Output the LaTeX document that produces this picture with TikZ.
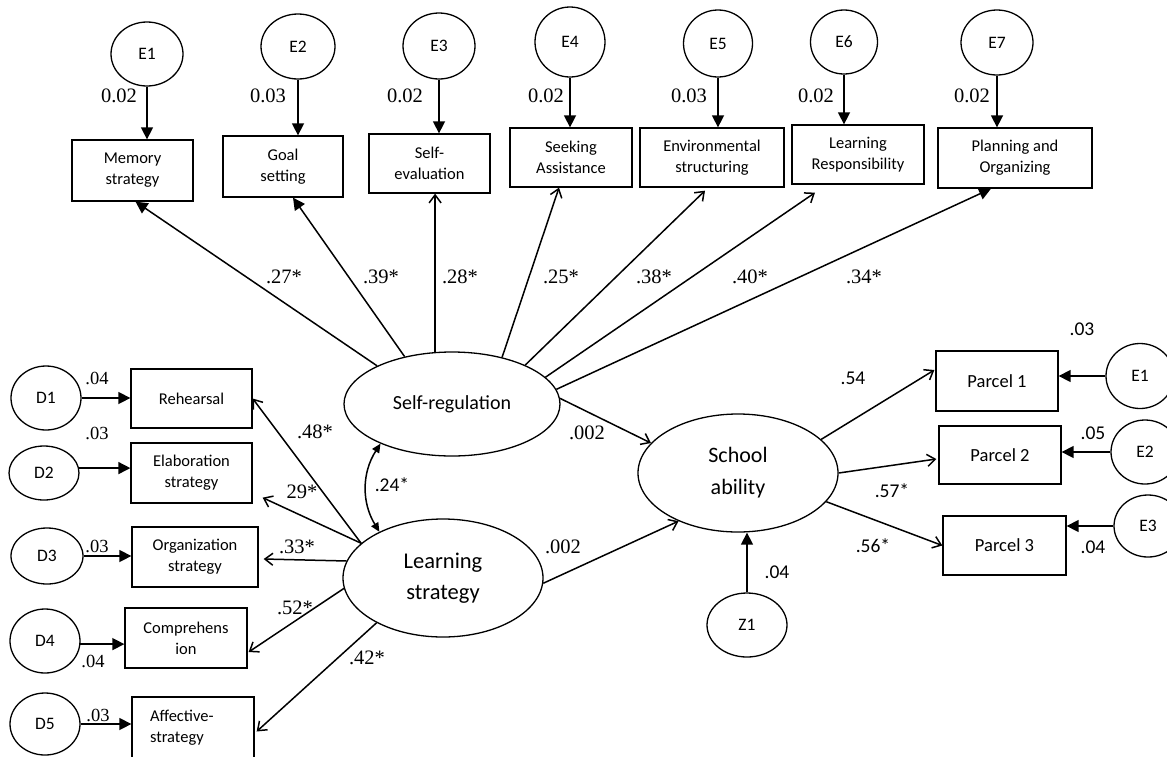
\documentclass[tikz,border=0pt]{standalone}
\usepackage{fontspec}
\setmainfont{Liberation Serif}
\newfontfamily\calib{Carlito}
\usetikzlibrary{shapes.geometric,arrows.meta,calc}
\begin{document}
\begin{tikzpicture}[x=1pt,y=-1pt,
 ell/.style={draw, ellipse, line width=1.3pt, inner sep=0pt, font=\calib\fontsize{17.5}{20}\selectfont},
 bx/.style={draw, rectangle, line width=1.3pt, inner sep=0pt, align=center, font=\calib\fontsize{16.5}{21}\selectfont},
 fa/.style={line width=1.5pt, -{Triangle[length=12pt,width=12pt]}},
 oa/.style={line width=1.5pt, -{Straight Barb[length=8pt,width=12pt]}},
 sl/.style={font=\fontsize{20.5}{24}\selectfont},
 ssl/.style={font=\fontsize{18.5}{22}\selectfont},
 cl/.style={font=\calib\fontsize{19.5}{22}\selectfont},
]
\useasboundingbox (0,0) rectangle (1167,756);
\fill[white] (0,0) rectangle (1167,756);
\clip (0,0) rectangle (1167,756);

% top error ellipses
\node[ell, minimum width=72pt, minimum height=64pt] (e1) at (147,54) {E1};
\node[ell, minimum width=74pt, minimum height=65pt] (e2) at (298,46.5) {E2};
\node[ell, minimum width=72pt, minimum height=66pt] (e3) at (439,46) {E3};
\node[ell, minimum width=70pt, minimum height=70pt] (e4) at (570,42) {E4};
\node[ell, minimum width=69pt, minimum height=67pt] (e5) at (718,43.5) {E5};
\node[ell, minimum width=67pt, minimum height=64pt] (e6) at (844,42) {E6};
\node[ell, minimum width=72pt, minimum height=65pt] (e7) at (997,42.5) {E7};

% top boxes
\node[bx, minimum width=121pt, minimum height=61pt] (mem) at (132.5,170.5) {Memory\\strategy};
\node[bx, minimum width=120pt, minimum height=61pt] (goal) at (283,166.5) {Goal\\setting};
\node[bx, minimum width=121pt, minimum height=59pt] (se) at (429.5,163.5) {Self-\\evaluation};
\node[bx, minimum width=122pt, minimum height=59pt] (seek) at (571,157.5) {Seeking\\Assistance};
\node[bx, minimum width=144pt, minimum height=59pt] (env) at (712,157.5) {Environmental\\structuring};
\node[bx, minimum width=132pt, minimum height=59pt] (lr) at (858,154.5) {Learning\\Responsibility};
\node[bx, minimum width=154pt, minimum height=60pt] (po) at (1015,158) {Planning and\\Organizing};

% latent ellipses
\node[ell, minimum width=216pt, minimum height=104pt, font=\calib\fontsize{20}{24}\selectfont] (sr) at (452,404) {Self-regulation};
\node[ell, minimum width=200pt, minimum height=118pt, font=\calib\fontsize{22}{32}\selectfont, align=center] (sch) at (738,473) {School\\ability};
\node[ell, minimum width=200pt, minimum height=118pt, font=\calib\fontsize{22.5}{31}\selectfont, align=center] (ls) at (443,578) {Learning\\strategy};
\node[ell, minimum width=80pt, minimum height=64pt] (z1) at (747,625) {Z1};

% left side
\node[ell, minimum width=70pt, minimum height=64pt] (d1) at (46,398) {D1};
\node[ell, minimum width=70pt, minimum height=54pt] (d2) at (44,473) {D2};
\node[ell, minimum width=72pt, minimum height=56pt] (d3) at (47,556) {D3};
\node[ell, minimum width=70pt, minimum height=64pt] (d4) at (45,641) {D4};
\node[ell, minimum width=70pt, minimum height=62pt] (d5) at (45,724) {D5};
\node[bx, minimum width=121pt, minimum height=59pt] (reh) at (191.5,398.5) {Rehearsal};
\node[bx, minimum width=121pt, minimum height=60pt] (elab) at (191.5,473) {Elaboration\\strategy};
\node[bx, minimum width=126pt, minimum height=60pt] (org) at (195,557) {Organization\\strategy};
\node[bx, minimum width=122pt, minimum height=60pt] (comp) at (186,638) {Comprehens\\ion};
\node[bx, align=left, text width=86pt, inner xsep=18pt, minimum height=61pt] (aff) at (193,727.5) {Affective-\\strategy};

% right side
\node[bx, minimum width=122pt, minimum height=60pt, font=\calib\fontsize{18.5}{22}\selectfont] (p1) at (997,381) {Parcel 1};
\node[bx, minimum width=122pt, minimum height=58pt, font=\calib\fontsize{18.5}{22}\selectfont] (p2) at (1000,455) {Parcel 2};
\node[bx, minimum width=123pt, minimum height=59pt, font=\calib\fontsize{18.5}{22}\selectfont] (p3) at (1004.5,545.5) {Parcel 3};
\node[ell, minimum width=68pt, minimum height=65pt] (e1r) at (1140,376) {E1};
\node[ell, minimum width=68pt, minimum height=64pt] (e2r) at (1145,452) {E2};
\node[ell, minimum width=68pt, minimum height=62pt] (e3r) at (1148,526) {E3};

% error arrows top
\draw[fa] (e1.south) -- (e1.south |- mem.north);
\draw[fa] (e2.south) -- (e2.south |- goal.north);
\draw[fa] (e3.south) -- (e3.south |- se.north);
\draw[fa] (e4.south) -- (e4.south |- seek.north);
\draw[fa] (e5.south) -- (e5.south |- env.north);
\draw[fa] (e6.south) -- (e6.south |- lr.north);
\draw[fa] (e7.south) -- (e7.south |- po.north);
\node[sl] at (119,96) {0.02};
\node[sl] at (268,96) {0.03};
\node[sl] at (405,96) {0.02};
\node[sl] at (546,96) {0.02};
\node[sl] at (689,96) {0.03};
\node[sl] at (816,96) {0.02};
\node[sl] at (972,96) {0.02};

% self-regulation loadings
\draw[fa] (sr.153) -- ($(mem.south)+(3,0)$);
\draw[fa] (sr.135) -- ($(goal.south)+(10,0)$);
\draw[oa] (sr.108) -- (sr.108 |- se.south);
\draw[oa] (sr.43) -- ($(seek.south)+(-12,0)$);
\draw[oa] (sr.28) -- ($(env.south)+(-7,3)$);
\draw[oa] (sr.16) -- ($(lr.south)+(-43,8)$);
\draw[fa] (sr.8) -- ($(po.south)+(-24,0)$);
\node[sl] at (284,277) {.27*};
\node[sl] at (381,277) {.39*};
\node[sl] at (460,277) {.28*};
\node[sl] at (561,277) {.25*};
\node[sl] at (654,277) {.38*};
\node[sl] at (750,277) {.40*};
\node[sl] at (864,277) {.34*};

% structural paths
\draw[oa] (sr.3) -- (sch.161);
\draw[oa] (ls.357) -- (sch.219);
\node[sl] at (587,433) {.002};
\node[sl] at (563,547) {.002};
\draw[line width=1.5pt, {Triangle[length=9pt,width=8pt]}-{Triangle[length=9pt,width=8pt]}] (sr.209) to[bend right=32] (ls.144);
\node[cl] at (392,485) {.24*};

% left indicators
\draw[fa] (d1.east) -- (d1.east -| reh.west);
\draw[fa] (d2.8) -- (d2.8 -| elab.west);
\draw[fa] (d3.east) -- (d3.east -| org.west);
\draw[fa] (d4.355) -- (d4.355 -| comp.west);
\draw[fa] (d5.east) -- (d5.east -| aff.west);
\node[ssl] at (97,378) {.04};
\node[ssl] at (97,433) {.03};
\node[ssl] at (97,546) {.03};
\node[ssl] at (93,661) {.04};
\node[ssl] at (98,715) {.03};

\draw[oa] (ls.157) -- (reh.east);
\draw[oa] (ls.157) -- ($(elab.south east)+(10,-6)$);
\draw[oa] (ls.170) -- ($(org.east)+(5,2)$);
\draw[oa] (ls.186) -- ($(comp.east)+(1,14)$);
\draw[oa] (ls.214) -- ($(aff.east)+(2,4)$);
\node[sl] at (315,432) {.48*};
\node[sl] at (302,492) {29*};
\node[sl] at (297,547) {.33*};
\node[sl] at (295,608) {.52*};
\node[sl] at (367,658) {.42*};

% school ability indicators
\draw[oa] (sch.22) -- ($(p1.west)+(-1,-11)$);
\draw[oa] (sch.east) -- ($(p2.west)+(-2,4)$);
\draw[oa] (sch.342) -- (p3.west);
\node[cl] at (853,378) {.54};
\node[cl] at (892,491) {.57*};
\node[cl] at (873,546) {.56*};

\draw[fa] (e1r.west) -- (e1r.west -| p1.east);
\draw[fa] (e2r.west) -- (e2r.west -| p2.east);
\draw[fa] (e3r.west) -- (e3r.west -| p3.east);
\node[cl] at (1082,329) {.03};
\node[cl] at (1093,433) {.05};
\node[cl] at (1093,547) {.04};

\draw[fa] (z1.north) -- (z1.north |- sch.south);
\node[cl] at (777,572) {.04};
\end{tikzpicture}
\end{document}
